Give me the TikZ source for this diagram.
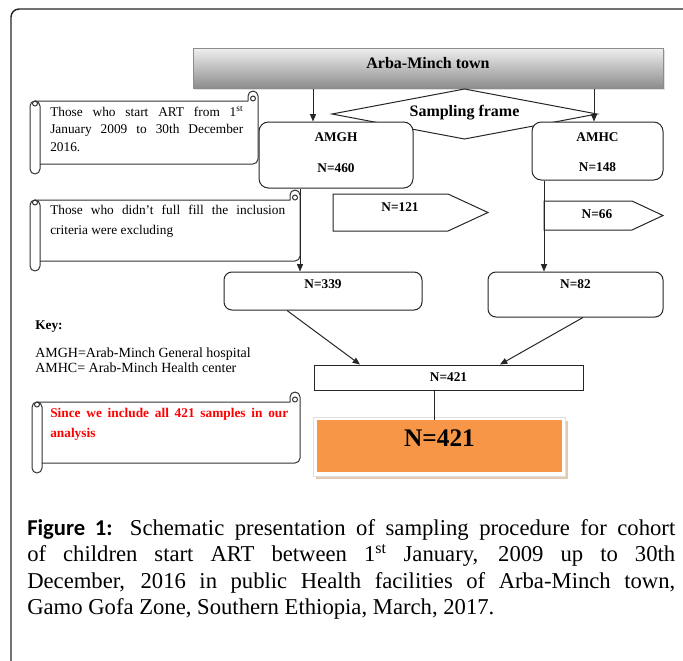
\documentclass[tikz,border=0pt]{standalone}
\usepackage{fontspec}
\setmainfont{Liberation Serif}
\newfontfamily\capfont{Carlito}
\usetikzlibrary{arrows.meta,calc,shadows}
\definecolor{orng}{HTML}{F79646}
\definecolor{myred}{HTML}{FF0000}
\definecolor{tanshadow}{HTML}{E3CBB2}
\newcommand\myscroll[4]{%
  \path[scr] ({#1-10},{#2+5}) arc[start angle=180,end angle=270,radius=5]
    -- ({#3-10},#2) -- ({#3-10},{#2-5}) arc[start angle=180,end angle=360,radius=5]
    -- (#3,{#4-5}) arc[start angle=0,end angle=90,radius=5]
    -- (#1,#4) -- (#1,{#4+5}) arc[start angle=0,end angle=180,radius=5] -- cycle;
  \draw[scrline] ({#1-5},#2) arc[start angle=270,end angle=360,radius=5] -- (#1,#4);
  \draw[scrline] ({#1-5},{#2+2.5}) circle[radius=2.5];
  \draw[scrline] ({#3-5},{#2-2.5}) circle[radius=2.5];
}
\begin{document}
\begin{tikzpicture}[x=0.75pt,y=-0.75pt,
  box/.style={draw=black!85, line width=0.75pt, fill=white, inner sep=0pt},
  rbox/.style={box, rounded corners=7pt},
  lbl/.style={font=\bfseries\fontsize{10}{12}\selectfont, inner sep=0pt},
  arr/.style={draw=black!85, line width=0.75pt, -{Triangle[length=5.5pt,width=4.5pt]}},
  scr/.style={draw=black!80, line width=0.75pt, fill=white, line join=round},
  scrline/.style={draw=black!80, line width=0.75pt},
  txt/.style={inner sep=0pt, anchor=base west, align=justify}
]
\useasboundingbox (0,0) rectangle (683,661);

% outer frame
\draw[line width=1.1pt, black!85, rounded corners=6pt] (11,661) -- (11,9) -- (683,9);

% top box
\node[box, draw=black!45, top color=black!6, bottom color=black!45,
      drop shadow={shadow xshift=1.2pt, shadow yshift=-1.2pt, opacity=0.25},
      minimum width=352.5pt, minimum height=30pt,
      label={[font=\bfseries\fontsize{12}{14}\selectfont, yshift=3.75pt]center:Arba-Minch town}] (arba) at (428,68) {};

% sampling frame diamond
\draw[box] (332,114) -- (464.5,89) -- (597,114) -- (464.5,139) -- cycle;
\node[font=\bfseries\fontsize{12}{14}\selectfont, inner sep=0pt] (frame) at (464.5,113) {Sampling frame};

% facility boxes
\node[rbox, minimum width=115.5pt, minimum height=49.5pt] (amgh) at (336,155) {};
\node[lbl] (amght) at (336,137) {AMGH};
\node[lbl] (amghn) at (336,168) {N=460};
\node[rbox, minimum width=98.25pt, minimum height=43.5pt] (amhc) at (597.5,151) {};
\node[lbl] (amhct) at (597.5,137) {AMHC};
\node[lbl] (amhcn) at (597.5,167) {N=148};

% excluded arrows (pentagons)
\draw[box] (333,194) -- (448,194) -- (488,212.5) -- (448,231) -- (333,231) -- cycle;
\node[lbl] (x121) at (400,207) {N=121};
\draw[box] (544,201) -- (632,201) -- (663,215.5) -- (632,230) -- (544,230) -- cycle;
\node[lbl] (x66) at (597,214) {N=66};

% scrolls
\myscroll{40}{101}{258}{164}
\node[txt, text width=144.75pt, font=\fontsize{10}{13.1}\selectfont] (s1) at (50,116.5)
  {Those who start ART from 1\textsuperscript{st}\linebreak January 2009 to 30th December\linebreak 2016.};
\myscroll{40}{200}{300}{261}
\node[txt, text width=176.25pt, font=\fontsize{10}{15}\selectfont] (s2) at (50,214.5)
  {Those who didn’t full fill the inclusion\linebreak criteria were excluding};
\myscroll{42}{402}{300}{463}
\node[txt, text width=178.5pt, text=myred, font=\bfseries\fontsize{10}{15}\selectfont] (s3) at (50,417.5)
  {Since we include all 421 samples in our\linebreak analysis};

% lower boxes
\node[box, rounded corners=6pt, minimum width=148.5pt, minimum height=28.5pt,
      label={[lbl, anchor=center, yshift=-9.75pt]north:N=339}] (n339) at (323,291) {};
\node[box, rounded corners=6pt, minimum width=131.25pt, minimum height=33.75pt,
      label={[lbl, anchor=center, yshift=-9.75pt]north:N=82}] (n82) at (575.5,294.5) {};
\node[box, minimum width=201.75pt, minimum height=18.75pt, font=\bfseries\fontsize{10}{12}\selectfont] (n421) at (448.5,377.5) {N=421};

% final orange box
\fill[tanshadow] (316,421) rectangle (568,479);
\draw[fill=white, draw=black!12, line width=0.5pt] (313,417) rectangle (565,476);
\node[fill=orng, inner sep=0pt, minimum width=183.75pt, minimum height=39pt,
      label={[font=\bfseries\fontsize{19}{21}\selectfont, yshift=6pt]center:N=421}] (big) at (439.5,446) {};

% key
\node[inner sep=0pt, anchor=base west, font=\bfseries\fontsize{10}{12}\selectfont] (key) at (35,329) {Key:};
\node[inner sep=0pt, anchor=base west, align=left, font=\fontsize{10.5}{11.5}\selectfont] (keytxt) at (35,372.5)
  {AMGH=Arab-Minch General hospital\\AMHC= Arab-Minch Health center};

% connector columns
\coordinate (cA) at (313,0);
\coordinate (cB) at (594,0);
\coordinate (cC) at (300,0);
\coordinate (cD) at (544,0);
\coordinate (cE) at (287,0);
\coordinate (cF) at (360,0);
\coordinate (cG) at (583,0);
\coordinate (cH) at (500,0);
\coordinate (cI) at (434,0);

\draw[arr] (arba.south -| cA) -- (amgh.north -| cA);
\draw[arr] (arba.south -| cB) -- (amhc.north -| cB);
\draw[arr] (amgh.south -| cC) -- (n339.north -| cC);
\draw[arr] (amhc.south -| cD) -- (n82.north -| cD);
\draw[arr] (n339.south -| cE) -- (n421.north -| cF);
\draw[arr] (n82.south -| cG) -- (n421.north -| cH);
\draw[draw=black!85, line width=0.75pt] (n421.south -| cI) -- (big.north -| cI);

% caption
\node[txt, text width=486pt, font=\fontsize{17}{19.9}\selectfont] (cap) at (27,535)
  {{\capfont\bfseries Figure 1:} Schematic presentation of sampling procedure for cohort\linebreak
   of children start ART between 1\textsuperscript{st} January, 2009 up to 30th\linebreak
   December, 2016 in public Health facilities of Arba-Minch town,\linebreak
   Gamo Gofa Zone, Southern Ethiopia, March, 2017.};
\end{tikzpicture}
\end{document}
